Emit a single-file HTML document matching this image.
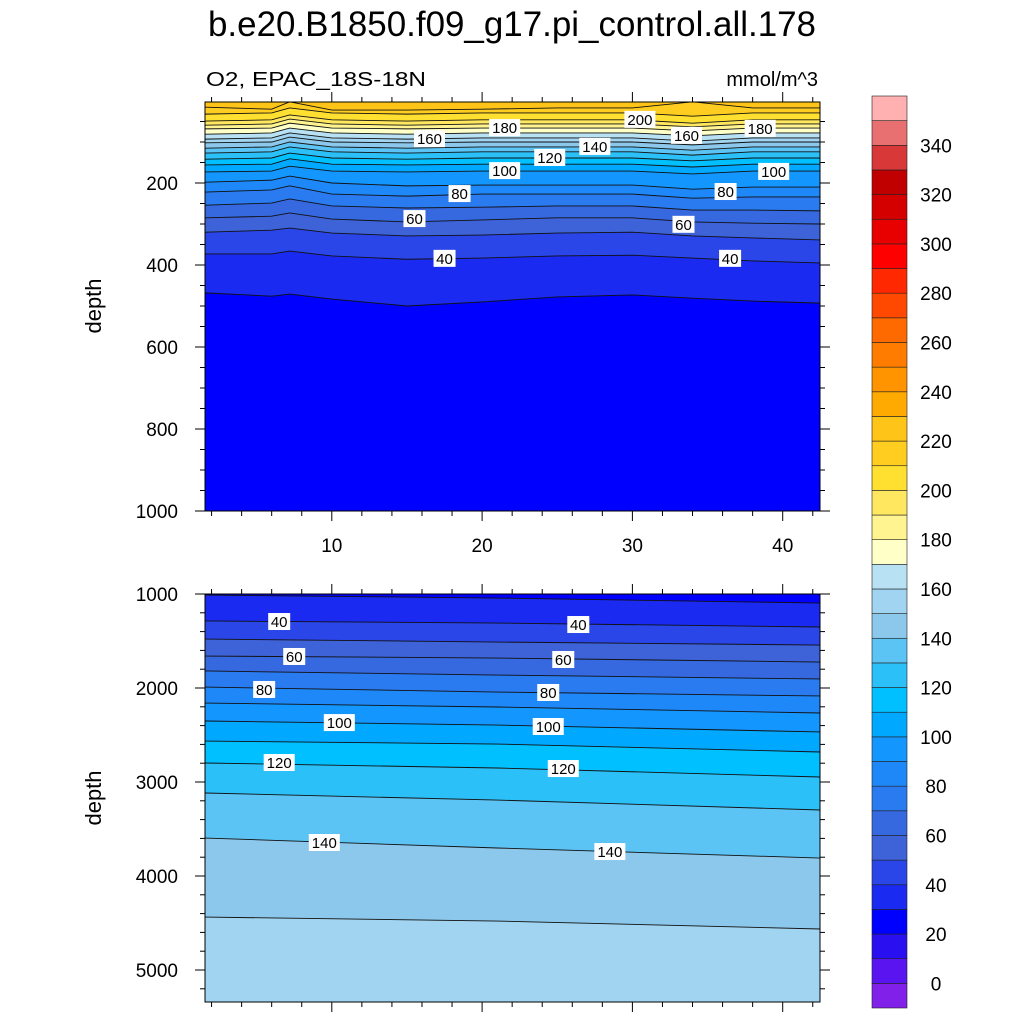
<!DOCTYPE html>
<html><head><meta charset="utf-8"><style>
body{margin:0;background:#fff;}
svg{display:block;font-family:"Liberation Sans",sans-serif;}
</style></head><body>
<svg id="chart" width="1024" height="1024" viewBox="0 0 1024 1024">
<text x="208" y="36" font-size="35" textLength="608" lengthAdjust="spacingAndGlyphs">b.e20.B1850.f09_g17.pi_control.all.178</text>
<text x="206" y="86" font-size="20" textLength="220" lengthAdjust="spacingAndGlyphs">O2, EPAC_18S-18N</text>
<text x="818" y="86" font-size="20" text-anchor="end">mmol/m^3</text>
<text transform="translate(101,306) rotate(-90)" font-size="22" text-anchor="middle">depth</text>
<text transform="translate(101,798) rotate(-90)" font-size="22" text-anchor="middle">depth</text>
<g id="top"></g><g id="bot"></g><g id="cbar"></g>
</svg>
<script>
const NS="http://www.w3.org/2000/svg";
const bandLows=[-10,0,10,20,30,40,50,60,70,80,90,100,110,120,130,140,150,160,170,180,190,200,210,220,230,240,250,260,270,280,290,300,310,320,330,340,350];
const bandColors=["#8020e8","#5a14f0","#2a10f0","#0000ff","#1a2af0","#2a46e8","#3e62d8","#3668e0","#2a7af0","#1e88f8","#1496ff","#00a8ff","#00c0ff","#2cc0f8","#5cc4f4","#8cc8ec","#a0d4f0","#b8e2f4","#ffffc8","#fff490","#ffe860","#ffe030","#ffcc20","#ffc418","#ffaa00","#ff9400","#ff7c00","#ff6a00","#ff4800","#ff2800","#ff0000","#e80000","#d40000","#c00000","#d83838","#e87070","#ffb0b0"];
const cbarLabels=[0,20,40,60,80,100,120,140,160,180,200,220,240,260,280,300,320,340];
// top panel contours (depth in m)
const topX=[1.6,6,7.2,10,15,20,25,30,34,38,42.5];
const topLevels=[30,40,50,60,70,80,90,100,110,120,130,140,150,160,170,180,190,200,210,220];
const topDepths=[
[468,476,471,483,500,490,478,473,481,488,493],
[373,373,366,378,386,383,378,376,383,390,395],
[320,315,310,322,329,327,322,320,329,334,339],
[285,281,273,288,295,290,285,285,295,298,300],
[254,249,239,256,261,259,256,256,266,266,268],
[222,217,207,227,232,227,227,227,237,234,234],
[198,193,183,200,207,205,205,205,215,210,210],
[173,171,159,171,173,171,171,171,178,171,171],
[156,154,141,154,156,154,154,154,161,154,154],
[142,139,127,139,142,139,139,139,146,139,139],
[127,124,112,124,127,124,124,124,132,124,124],
[115,112,100,112,115,112,112,112,120,112,112],
[102,100,88,100,102,100,100,100,107,100,100],
[93,90,78,90,93,90,90,90,98,90,90],
[81,78,66,78,81,78,78,78,85,78,78],
[68,66,54,66,68,66,66,66,73,66,66],
[59,56,44,56,59,56,56,56,63,56,56],
[49,46,34,46,49,46,46,46,54,46,46],
[32,29,17,29,32,29,29,29,37,29,29],
[15,20,2,22,22,20,17,17,2,17,17]];
const topLabelVals=[200,180,180,160,160,140,120,100,100,80,80,60,60,40,40];
const topLabelX=[30.5,21.5,38.5,16.5,33.6,27.5,24.5,21.5,39.4,18.5,36.2,15.5,33.4,17.5,36.5];
const topLabelD=[46,66,68,93,85,112,139,171,173,227,222,288,302,385,385];
// bottom panel contours
const botX=[1.6,21,42.5];
const botLevels=[30,40,50,60,70,80,90,100,110,120,130,140,150];
const botDepths=[
[1011,1043,1096],[1287,1309,1351],[1479,1511,1543],[1660,1681,1724],[1819,1862,1904],
[1990,2043,2085],[2160,2202,2266],[2351,2394,2468],[2564,2596,2681],[2798,2851,2947],
[3117,3192,3298],[3596,3702,3809],[4437,4479,4564]];
const botLabelVals=[40,40,60,60,80,80,100,100,120,120,140,140];
const botLabelX=[6.5,26.4,7.5,25.4,5.5,24.4,10.5,24.4,6.5,25.4,9.5,28.5];
const botLabelD=[1298,1330,1670,1702,2021,2053,2373,2415,2798,2862,3649,3745];

const xTicksMajor=[10,20,30,40];
const topYTicks=[200,400,600,800,1000];
const botYTicks=[1000,2000,3000,4000,5000];

const L=205,R=820;
const xs=v=>181.5+(v)*15.03;
const topY=d=>101+d*0.41;
const botY=d=>594+(d-1000)*0.094;
function col(l){return bandColors[bandLows.indexOf(l)];}
function el(tag,attrs,parent){const e=document.createElementNS(NS,tag);for(const k in attrs)e.setAttribute(k,attrs[k]);parent.appendChild(e);return e;}

function panel(g,name,T,B,ys,X,levels,depths,baseColor,fromTop,lv,lx,ld,yTicks,minorStep,dmin,dmax,showXLabels){
  const cid='clip-'+name;
  const defs=el('defs',{},g);
  const cp=el('clipPath',{id:cid},defs);
  el('rect',{x:L,y:T,width:R-L,height:B-T},cp);
  const cg=el('g',{'clip-path':'url(#'+cid+')'},g);
  const base=el('rect',{x:L,y:T,width:R-L,height:B-T,fill:baseColor},cg);
  
  
  levels.forEach((lev,i)=>{
    const pts=X.map((x,j)=>[xs(x),ys(depths[i][j])]);
    const ext=[[L-5,pts[0][1]],...pts,[R+5,pts[pts.length-1][1]]];
    const edge=fromTop?T-5:B+5;
    const poly=ext.map(p=>p.join(',')).join(' ')+' '+(R+5)+','+edge+' '+(L-5)+','+edge;
    const pg=el('polygon',{points:poly,fill:col(lev)},cg);
    
    
  });
  levels.forEach((lev,i)=>{
    const pts=X.map((x,j)=>[xs(x),ys(depths[i][j])]);
    const ext=[[L-5,pts[0][1]],...pts,[R+5,pts[pts.length-1][1]]];
    const pl=el('polyline',{points:ext.map(p=>p.join(',')).join(' '),fill:'none',stroke:'#111','stroke-width':0.9},cg);
    
    
  });
  lv.forEach((v,i)=>{
    const cx=xs(lx[i]),cy=ys(ld[i]);
    const w=String(v).length*9+4;
    const r=el('rect',{x:cx-w/2,y:cy-9,width:w,height:17,fill:'#fff'},g);
    
    
    const t=el('text',{x:cx,y:cy+5,'font-size':15,'text-anchor':'middle'},g);
    t.textContent=v;
    
    
  });
  const fr=el('rect',{x:L,y:T,width:R-L,height:B-T,fill:'none',stroke:'#000','stroke-width':1},g);
  
  
  for(let v=2;v<=42;v+=2){
    const x=xs(v);const major=xTicksMajor.includes(v);const len=major?10:5;
    const t1=el('line',{x1:x,x2:x,y1:B,y2:B+len,stroke:'#000'},g);
    
    
    const t2=el('line',{x1:x,x2:x,y1:T,y2:T-len,stroke:'#000'},g);
    
    
  }
  if(showXLabels){
    xTicksMajor.forEach(v=>{
      const t=el('text',{x:xs(v),y:B+41,'font-size':19,'text-anchor':'middle'},g);
      t.textContent=v;
      
      
    });
  }
  for(let d=dmin;d<=dmax;d+=minorStep){
    const y=ys(d);if(y<T-0.5||y>B+0.5)continue;
    const major=yTicks.includes(d);const len=major?10:5;
    const a=el('line',{x1:L,x2:L-len,y1:y,y2:y,stroke:'#000'},g);
    
    
    const b=el('line',{x1:R,x2:R+len,y1:y,y2:y,stroke:'#000'},g);
    
    
  }
  yTicks.forEach(d=>{
    const t=el('text',{x:178,y:ys(d)+7,'font-size':19,'text-anchor':'end'},g);
    t.textContent=d;
    
    
  });
}
panel(document.getElementById('top'),'top-panel',102,511,topY,topX,topLevels,topDepths,col(20),true,topLabelVals,topLabelX,topLabelD,topYTicks,50,0,1000,true);
panel(document.getElementById('bot'),'bottom-panel',594,1002,botY,botX,botLevels,botDepths,col(20),false,botLabelVals,botLabelX,botLabelD,botYTicks,200,1000,5400,false);

const cb=document.getElementById('cbar');
const cT=96,cB=1008,cL=872,cW=35,n=bandColors.length,h=(cB-cT)/n;
bandColors.forEach((c,i)=>{
  const r=el('rect',{x:cL,y:cB-(i+1)*h,width:cW,height:h,fill:c,stroke:'#222','stroke-width':0.6},cb);
  
  
});
cbarLabels.forEach(v=>{
  const i=bandLows.indexOf(v);
  const y=cB-i*h;
  const t=el('text',{x:936,y:y+7,'font-size':19,'text-anchor':'middle'},cb);
  t.textContent=v;
  
  
});
</script>
</body></html>
